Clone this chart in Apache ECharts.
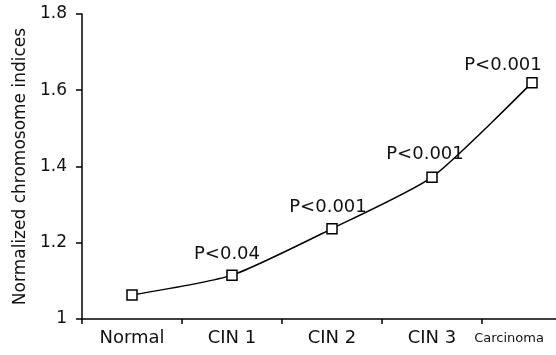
<!DOCTYPE html>
<html><head><meta charset="utf-8">
<script src="https://cdn.jsdelivr.net/npm/echarts@6/dist/echarts.min.js"></script>
<style>html,body{margin:0;padding:0;background:#fff;overflow:hidden;width:556px;height:355px}#c{width:582px;height:355px}</style>
</head><body><div id="c"></div>
<script>
const categories = ['Normal', 'CIN 1', 'CIN 2', 'CIN 3', 'Carcinoma'];
const indices = [1.063, 1.115, 1.237, 1.372, 1.62];
const pLabels = ['', 'P<0.04', 'P<0.001', 'P<0.001', 'P<0.001'];
const yTicks = [1, 1.2, 1.4, 1.6, 1.8];

const font = 'DejaVu Sans';
const labelOffsets = [[0,0], [-5,-1], [-4,-2], [-7,-3], [-29,2]];

const chart = echarts.init(document.getElementById('c'));
chart.setOption({
  animation: false,
  backgroundColor: '#fff',
  grid: { left: 82, top: 14, bottom: 36, right: 0 },
  xAxis: {
    type: 'category',
    data: categories.map((c, i) => i === 4
      ? { value: c, textStyle: { fontSize: 13, padding: [3, 46, 0, 0] } }
      : c),
    boundaryGap: true,
    axisLine: { lineStyle: { color: '#000', width: 1.5 } },
    axisTick: { show: true, length: 5, lineStyle: { color: '#000', width: 1.5 } },
    axisLabel: { color: '#111', fontFamily: font, fontSize: 18, margin: 10, interval: 0, hideOverlap: false },
    splitLine: { show: false }
  },
  yAxis: {
    type: 'value',
    min: yTicks[0], max: yTicks[yTicks.length - 1], interval: 0.2,
    name: 'Normalized chromosome indices',
    nameLocation: 'middle', nameGap: 50, nameRotate: 90,
    nameTextStyle: { color: '#111', fontFamily: font, fontSize: 17 },
    axisLine: { show: true, lineStyle: { color: '#000', width: 1.5 } },
    axisTick: { show: true, length: 6, lineStyle: { color: '#000', width: 1.5 } },
    axisLabel: { color: '#111', fontFamily: font, fontSize: 17, margin: 15 },
    splitLine: { show: false }
  },
  series: [{
    type: 'line',
    smooth: 0.2,
    data: indices.map((v, i) => ({
      value: v,
      label: {
        show: pLabels[i] !== '',
        formatter: pLabels[i],
        position: 'top',
        distance: 5,
        offset: labelOffsets[i],
        color: '#111', fontFamily: font, fontSize: 18
      }
    })),
    symbol: 'rect',
    symbolSize: 10,
    itemStyle: { color: '#fff', borderColor: '#000', borderWidth: 1.5 },
    lineStyle: { color: '#000', width: 1.5 }
  }]
});
</script></body></html>
